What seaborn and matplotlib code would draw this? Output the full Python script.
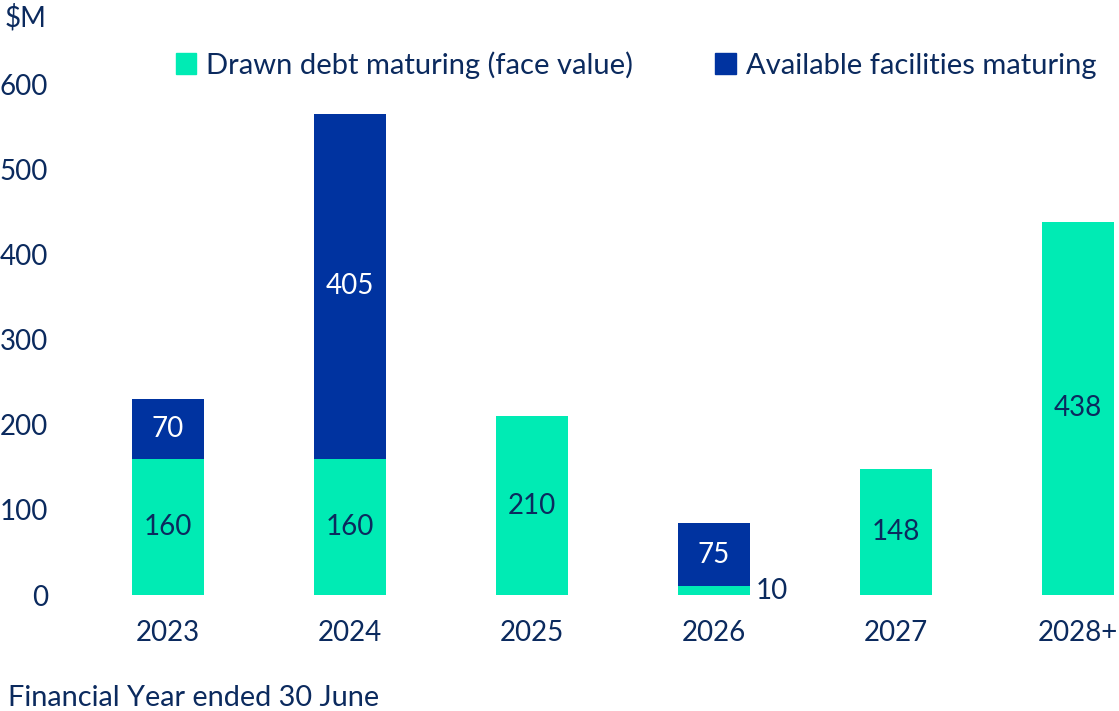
import matplotlib
matplotlib.use("Agg")
import matplotlib.pyplot as plt
import seaborn as sns
import pandas as pd
from matplotlib.patches import Patch

# data
years = ["2023", "2024", "2025", "2026", "2027", "2028+"]
drawn = [160, 160, 210, 10, 148, 438]
available = [70, 405, 0, 75, 0, 0]

green = "#00EBB4"
blue = "#0033A0"
navy = "#0B2A5E"

df = pd.DataFrame({"year": years, "drawn": drawn, "available": available})
df["total"] = df["drawn"] + df["available"]

sns.set_theme(style="white")
plt.rcParams["font.family"] = ["Lato", "DejaVu Sans"]

fig = plt.figure(figsize=(11.19, 7.11), dpi=100)
ax = fig.add_axes([60 / 1119, (711 - 595) / 711, (1119 - 60) / 1119, (595 - 84) / 711])

# stacked look: totals in blue first, drawn debt in green over them
sns.barplot(data=df, x="year", y="total", color=blue, width=0.4, saturation=1,
            linewidth=0, ax=ax)
sns.barplot(data=df, x="year", y="drawn", color=green, width=0.4, saturation=1,
            linewidth=0, ax=ax)

ax.set_ylim(0, 600)
ax.set_xlim(-0.593, 5.225)
ax.set_yticks([0, 100, 200, 300, 400, 500, 600])
ax.tick_params(axis="y", labelsize=20, labelcolor=navy, pad=8.5, length=0)
ax.tick_params(axis="x", labelsize=20, labelcolor=navy, pad=18, length=0)
ax.set_xlabel("")
ax.set_ylabel("")
sns.despine(ax=ax, left=True, bottom=True)
ax.grid(False)

# value labels
for i, row in df.iterrows():
    if row["drawn"] >= 50:
        ax.text(i, row["drawn"] / 2, str(row["drawn"]), ha="center", va="center",
                fontsize=20, color=navy)
    else:
        ax.text(i + 0.23, row["drawn"] / 2, str(row["drawn"]), ha="left", va="center",
                fontsize=20, color=navy)
    if row["available"] > 0:
        ax.text(i, row["drawn"] + row["available"] / 2, str(row["available"]),
                ha="center", va="center", fontsize=20, color="white")

fig.text(5 / 1119, 1 - 18 / 711, "$M", fontsize=20, color=navy, va="center", ha="left")
fig.text(8 / 1119, 1 - 698 / 711, "Financial Year ended 30 June", fontsize=20.8,
         color=navy, va="center", ha="left")

handles = [Patch(color=green, label="Drawn debt maturing (face value)"),
           Patch(color=blue, label="Available facilities maturing")]
fig.legend(handles=handles, loc="center", bbox_to_anchor=(636 / 1119, 1 - 65 / 711),
           ncol=2, frameon=False, fontsize=21, labelcolor=navy,
           handlelength=0.7, handleheight=0.7, handletextpad=0.35, columnspacing=2.8)

fig.savefig("out.png", dpi=100)
